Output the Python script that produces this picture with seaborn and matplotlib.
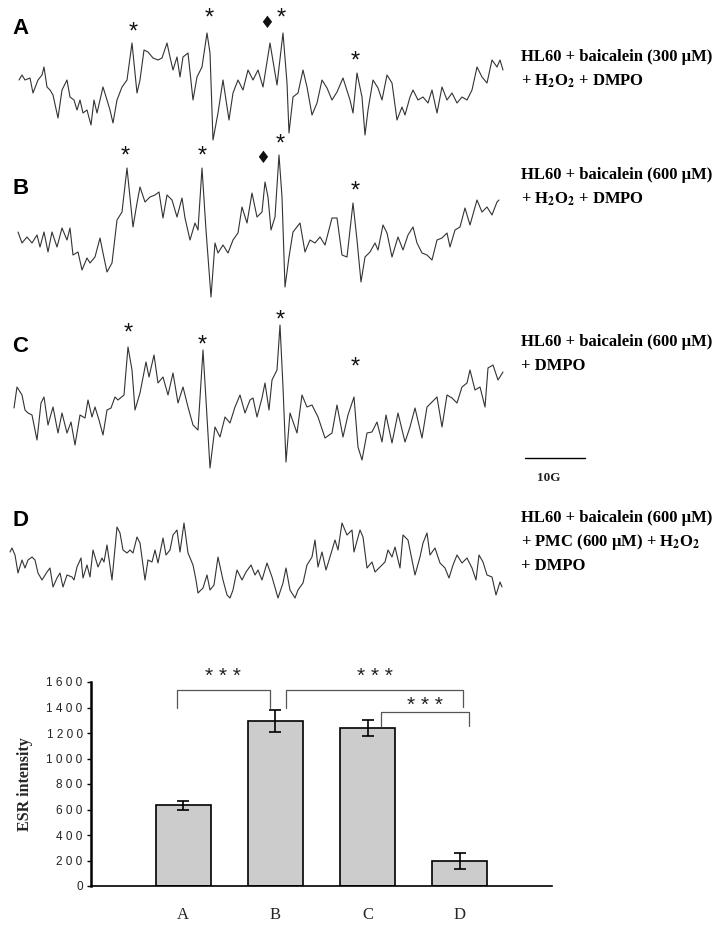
import numpy as np
import pandas as pd
import matplotlib
matplotlib.use("Agg")
import matplotlib.pyplot as plt
import seaborn as sns

# ESR spectra as (field, level) pairs; level grows downward
trace_a = [(19,80),(22,75),(25,80),(30,78),(33,93),(38,80),(42,75),(44,67),(47,87),(50,90),(53,95),(58,118),
           (62,90),(67,80),(70,97),(74,100),(77,110),(80,100),(83,113),(87,110),(91,125),(94,100),(97,113),
           (100,100),(103,87),(107,100),(110,110),(113,123),(117,100),(122,87),(127,80),(132,43),(137,93),
           (140,80),(144,50),(148,52),(153,58),(158,60),(162,58),(167,43),(170,57),(173,70),(177,57),(180,77),
           (183,57),(188,53),(193,100),(197,77),(202,67),(207,33),(210,53),(213,140),(218,113),(223,80),
           (229,120),(233,93),(238,80),(243,90),(248,70),(253,80),(258,70),(263,87),(270,43),(277,85),(283,33),
           (287,83),(289,133),(293,97),(298,93),(303,70),(307,87),(312,115),(317,103),(322,80),(327,88),
           (332,100),(337,92),(343,78),(350,100),(353,113),(357,73),(362,97),(365,135),(368,110),(373,80),
           (378,88),(382,100),(387,75),(392,83),(397,120),(402,107),(405,115),(410,97),(413,90),(418,100),
           (423,97),(428,103),(432,90),(437,113),(442,87),(447,100),(452,93),(457,103),(462,97),(467,100),
           (472,90),(477,67),(482,77),(487,83),(492,60),(497,67),(500,60),(503,70)]
trace_b = [(18,232),(22,243),(27,237),(32,243),(37,235),(40,247),(44,232),(48,252),(52,232),(57,247),(62,228),
           (67,240),(70,228),(73,255),(78,252),(82,270),(87,258),(90,263),(95,257),(100,238),(103,253),
           (107,272),(112,263),(117,220),(122,212),(127,168),(133,227),(137,203),(140,187),(145,202),(150,197),
           (155,195),(159,192),(163,218),(167,195),(172,200),(177,217),(182,198),(185,218),(190,240),(195,223),
           (198,230),(202,168),(206,230),(211,297),(215,243),(218,253),(223,245),(228,253),(233,240),(238,233),
           (242,207),(247,223),(252,193),(257,217),(262,212),(265,182),(268,197),(271,230),(275,217),(279,155),
           (282,197),(285,287),(289,257),(293,232),(300,223),(305,252),(310,240),(315,243),(320,237),(325,245),
           (332,218),(337,218),(342,255),(347,257),(353,203),(357,240),(361,282),(365,257),(370,252),(375,243),
           (378,250),(383,225),(387,233),(392,257),(398,237),(403,250),(408,235),(413,227),(417,243),(422,253),
           (427,255),(432,260),(437,240),(442,238),(447,233),(450,247),(455,230),(460,227),(465,208),(470,225),
           (477,200),(482,212),(487,207),(492,215),(497,202),(499,200)]
trace_c = [(14,408),(17,387),(22,395),(25,410),(28,413),(32,415),(37,440),(41,403),(44,397),(48,425),(53,407),
           (58,433),(62,413),(67,433),(71,422),(75,445),(80,415),(85,418),(88,400),(92,417),(95,407),(99,420),
           (103,435),(107,410),(111,408),(115,397),(118,400),(124,395),(128,347),(132,370),(135,410),(140,393),
           (146,362),(149,377),(154,355),(158,383),(163,377),(168,395),(173,373),(178,403),(183,387),(188,407),
           (193,425),(198,430),(203,350),(206,400),(210,468),(215,427),(220,437),(225,417),(230,423),(235,407),
           (240,395),(245,413),(250,400),(253,398),(257,417),(262,398),(265,383),(269,410),(272,380),(277,370),
           (280,325),(283,387),(286,462),(290,413),(297,433),(302,395),(307,407),(312,405),(318,417),(325,438),
           (332,433),(337,405),(343,437),(348,415),(354,397),(358,447),(362,460),(367,433),(372,432),(377,422),
           (382,442),(386,415),(392,443),(398,413),(405,442),(410,427),(415,408),(422,438),(427,407),(432,402),
           (437,397),(442,427),(447,395),(452,398),(457,403),(462,387),(467,383),(470,370),(475,390),(480,387),
           (485,407),(488,368),(493,365),(498,380),(503,372)]
trace_d = [(10,552),(12,548),(15,555),(18,573),(22,560),(25,568),(28,560),(32,557),(35,560),(38,573),(42,580),
           (47,572),(50,568),(53,587),(57,578),(60,573),(63,587),(67,575),(72,577),(74,580),(77,567),(81,558),
           (83,578),(87,565),(90,577),(93,550),(98,567),(102,558),(104,562),(107,545),(112,580),(117,527),
           (120,533),(123,550),(127,553),(130,550),(133,553),(137,537),(140,543),(145,580),(148,560),(152,562),
           (155,550),(158,563),(163,538),(166,555),(170,550),(173,535),(177,530),(180,552),(184,523),(188,553),
           (193,565),(196,580),(198,593),(203,588),(207,575),(210,590),(214,585),(218,557),(223,580),(227,595),
           (230,598),(233,590),(237,570),(242,580),(246,572),(251,565),(255,575),(258,570),(262,580),(267,563),
           (272,577),(278,598),(283,583),(286,568),(290,590),(295,598),(298,590),(303,583),(307,565),(312,557),
           (315,540),(318,567),(322,552),(326,570),(330,557),(335,540),(338,550),(342,523),(347,535),(352,530),
           (354,552),(360,530),(363,537),(367,568),(372,562),(375,572),(380,567),(385,562),(388,550),(392,557),
           (395,547),(400,568),(403,535),(408,540),(415,575),(420,557),(423,543),(427,533),(430,555),(435,548),
           (440,563),(445,568),(449,578),(453,565),(457,555),(462,563),(467,558),(472,568),(476,580),(479,555),
           (483,562),(487,575),(492,577),(496,595),(500,582),(502,587)]

# peak markers (*) and diamond markers above the spectra
stars = [(133,28),(209,14),(281,14),(355,57),
         (125,152),(202,152),(280,140),(355,187),
         (128,329),(202,341),(280,316),(355,363)]
diamonds = [(267,23),(263,158)]

panel_letters = ["A", "B", "C", "D"]
panel_letter_y = [28, 188, 347, 520]
conditions = [["HL60 + baicalein (300 μM)", "+ H$_\\mathbf{2}$O$_\\mathbf{2}$ + DMPO"],
              ["HL60 + baicalein (600 μM)", "+ H$_\\mathbf{2}$O$_\\mathbf{2}$ + DMPO"],
              ["HL60 + baicalein (600 μM)", "+ DMPO"],
              ["HL60 + baicalein (600 μM)", "+ PMC (600 μM) + H$_\\mathbf{2}$O$_\\mathbf{2}$", "+ DMPO"]]
condition_y = [57, 175, 342, 518]

# bar chart
groups = ["A", "B", "C", "D"]
esr_mean = [635, 1293, 1240, 198]
esr_err = [35, 84, 62, 64]
# significance brackets: (left, right, top, left leg end, right leg end, star height)
brackets = [(-0.07, 0.94, 1534, 1400, 1400, 1640),
            (1.12, 3.04, 1534, 1395, 1403, 1640),
            (2.15, 3.10, 1361, 1256, 1256, 1418)]

sns.set_theme(style="white")
plt.rcParams["font.family"] = ["Liberation Serif", "DejaVu Sans"]
plt.rcParams["mathtext.fontset"] = "stix"

fig = plt.figure(figsize=(7.23, 9.27), dpi=100)

# ---- spectra ----
ax = fig.add_axes([0, 307/927, 1, 620/927])
for tr in [trace_a, trace_b, trace_c, trace_d]:
    df = pd.DataFrame(tr, columns=["field", "level"])
    sns.lineplot(data=df, x="field", y="level", ax=ax, color="#333333", lw=0.8,
                 estimator=None, sort=False)
ax.set_xlim(0, 723)
ax.set_ylim(620, 0)
ax.axis("off")

for x, y in stars:
    ax.text(x, y + 5, "*", ha="center", va="center", fontsize=17,
            family="Liberation Sans", color="#111111")
for x, y in diamonds:
    ax.text(x, y, "♦", ha="center", va="center", fontsize=12,
            family="DejaVu Sans", color="#111111")
for lab, y in zip(panel_letters, panel_letter_y):
    ax.text(12, y, lab, ha="left", va="center", fontsize=16, fontweight="bold",
            family="Liberation Sans", color="black")
for lines, y0 in zip(conditions, condition_y):
    for i, line in enumerate(lines):
        ax.text(521, y0 + i*24, line, ha="left", va="center", fontsize=12,
                fontweight="bold", color="black")

# 10 G scale bar
ax.plot([525, 585], [458, 458], color="black", lw=1)
ax.text(549, 478, "10G", ha="center", va="center", fontsize=9.5, fontweight="bold", color="#222222")

# ---- ESR intensity bars ----
bx = fig.add_axes([91/723, 41/927, 461/723, 204/927])
sns.barplot(x=groups, y=esr_mean, color="#cccccc", saturation=1, edgecolor="black",
            linewidth=1.2, width=0.6, errorbar=None, ax=bx)
bx.errorbar(np.arange(len(groups)), esr_mean, yerr=esr_err, fmt="none", ecolor="black",
            elinewidth=1.2, capsize=4.5, capthick=1.2)

for l, r, top, ll, rl, sy in brackets:
    bx.plot([l, l, r, r], [ll, top, top, rl], color="#555555", lw=0.9, clip_on=False)
    bx.text((l + r)/2, sy, "* * *", ha="center", va="center", fontsize=15,
            family="Liberation Sans", color="#222222", clip_on=False)

bx.set_xlim(-1, 4)
bx.set_ylim(0, 1600)
yt = np.arange(0, 1601, 200)
bx.set_yticks(yt)
bx.set_yticklabels([" ".join(str(v)) for v in yt], family="Liberation Sans", fontsize=8.5,
                   color="#222222")
bx.tick_params(axis="y", left=True, length=3, width=1, pad=3, color="black")
bx.tick_params(axis="x", length=0, pad=15, labelsize=12)
for t in bx.get_xticklabels():
    t.set_family("Liberation Serif")
bx.set_ylabel("ESR intensity", fontsize=11.5, fontweight="bold")
bx.yaxis.set_label_coords(-0.125, 0.5)
bx.set_xlabel("")
for s in ["top", "right"]:
    bx.spines[s].set_visible(False)
bx.spines["left"].set_linewidth(1.8)
bx.spines["bottom"].set_linewidth(1.2)
bx.spines["left"].set_color("black")
bx.spines["bottom"].set_color("black")

fig.savefig("out.png", dpi=100)
